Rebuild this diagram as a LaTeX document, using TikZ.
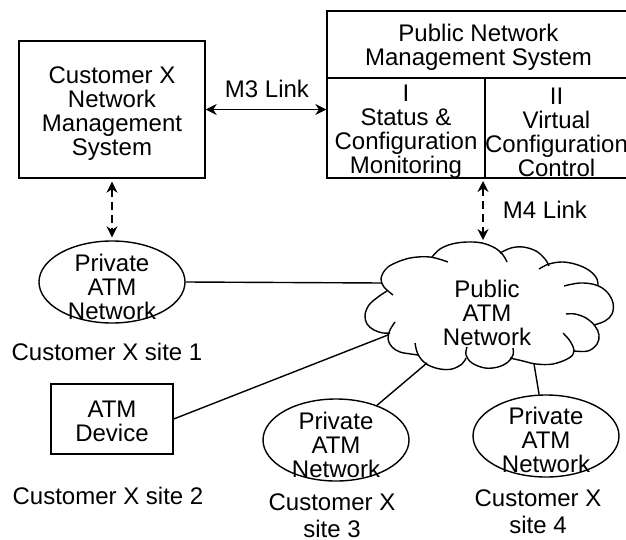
\documentclass[tikz,border=0pt]{standalone}
\usepackage{fontspec}
\setmainfont{Liberation Sans}
\usepackage{tikz}
\usetikzlibrary{
  arrows.meta,
  shapes.geometric,
  positioning
}
\tikzset{
  nmnode/.style={
    draw, line width=0.7pt, align=center, inner sep=0pt
  },
  nmbox/.style={nmnode, minimum width=93pt, minimum height=68.5pt},
  cellbox/.style={nmnode, minimum height=50pt},
  devbox/.style={nmnode, minimum width=61pt, minimum height=35pt},
  boxtext/.style={align=center, inner sep=0pt},
  privnet/.style={draw, ellipse, line width=0.7pt, minimum width=73pt, minimum height=41pt, inner sep=0pt},
  puff/.style={line width=0.7pt, smooth, tension=0.6},
  nettext/.style={align=center, inner sep=0pt},
  tag/.style={align=center, inner sep=0pt},
  mlink/.style={{Stealth[length=5.5pt,width=5.5pt]}-{Stealth[length=5.5pt,width=5.5pt]}, line width=0.7pt},
  mdash/.style={mlink, dash pattern=on 4pt off 2.5pt, shorten <=1.5pt, shorten >=1.5pt},
  netline/.style={line width=0.7pt}
}

\begin{document}
\begin{tikzpicture}[x=0.5pt, y=-0.5pt, font=\fontsize{12}{12}\selectfont]
  \useasboundingbox (0,0) rectangle (626,540);

  % management systems
  \node[nmbox] (cust) at (112,109.5) {};
  \node[boxtext] (custtxt) at (112,113.5) {Customer X\\Network\\Management\\System};
  \node[nmnode, minimum width=151.5pt, minimum height=33.5pt] (pub) at (478.5,44.5) {};
  \node[boxtext] (pubtxt) at (478.5,47.5) {Public Network\\Management System};
  \node[cellbox, minimum width=79pt] (stat) at (406,128) {};
  \node[boxtext] (stattxt) at (406,132) {I\\Status \&\\Configuration\\Monitoring};
  \node[cellbox, minimum width=71.5pt] (virt) at (556.5,128) {};
  \node[boxtext] (virttxt) at (556.5,132) {II\\Virtual\\Configuration\\Control};

  % customer sites
  \node[privnet] (site1) at (112,282) {};
  \node[nettext] (site1txt) at (112,287) {Private\\ATM\\Network};
  \node[tag] (site1tag) at (107,352) {Customer X site 1};

  \node[devbox] (dev) at (112,419) {};
  \node[boxtext] (devtxt) at (112,421.5) {ATM\\Device};
  \node[tag] (site2tag) at (108,496) {Customer X site 2};

  \node[privnet] (site3) at (336,440) {};
  \node[nettext] (site3txt) at (336,445) {Private\\ATM\\Network};
  \node[tag] (site3tag) at (332,515.5) {Customer X\\[1.5pt]site 3};

  \node[privnet] (site4) at (546,436) {};
  \node[nettext] (site4txt) at (546,440) {Private\\ATM\\Network};
  \node[tag] (site4tag) at (538,512) {Customer X\\[1.5pt]site 4};

  % public ATM network (cloud)
  \draw[puff] plot coordinates {(387,291) (378,297) (369,305) (365,315) (367,324) (374,330) (383,333) (390,333)};
  \draw[puff] plot coordinates {(395,322) (390,330) (388,339) (392,347) (400,352) (411,354) (418,355)};
  \draw[puff] plot coordinates {(415,343) (417,352) (421,359) (428,365) (440,369) (452,369) (462,364) (466,358)};
  \draw[puff] plot coordinates {(467,347) (466,355) (472,363) (485,368) (498,367) (508,362) (513,355) (513,348)};
  \draw[puff] plot coordinates {(510,358) (523,361) (536,364) (553,364) (569,358) (574,351) (570,341) (563,333)};
  \draw[puff] plot coordinates {(574,351) (588,351) (597,344) (599,335) (595,326) (586,318) (575,314) (566,314)};
  \draw[puff] plot coordinates {(564,286) (580,283) (596,285) (607,292) (613,303) (612,314) (605,321) (594,325)};
  \draw[puff] plot coordinates {(539,269) (549,264) (563,262) (578,265) (590,271) (597,279) (598,286)};
  \draw[puff] plot coordinates {(500,253) (511,248) (523,247) (536,251) (545,259) (549,266)};
  \draw[puff] plot coordinates {(432,257) (440,249) (452,244) (467,242) (482,243) (495,248) (503,255) (507,262)};
  \draw[puff] plot coordinates {(393,295) (384,287) (381,279) (385,270) (393,264) (410,258) (430,257) (448,262)};
  \node[nettext] (atmtxt) at (487,313) {Public\\ATM\\Network};

  % management links
  \draw[mlink] (cust.east) -- (cust.east -| stat.west);
  \node[tag] (m3tag) at (267,89) {M3 Link};
  \draw[mdash] (cust.south) -- (site1.north);
  \coordinate (m4top) at (483,178);
  \coordinate (atmtop) at (483,243);
  \draw[mdash] (m4top) -- (atmtop);
  \node[tag] (m4tag) at (545,210) {M4 Link};

  % access lines into the public network
  \coordinate (in1) at (382,283);
  \coordinate (in2) at (388,335);
  \coordinate (in3) at (427,363);
  \coordinate (in4) at (534,364);
  \draw[netline] (site1.east) -- (in1);
  \draw[netline] (dev.east) -- (in2);
  \draw[netline] (in3) -- (site3);
  \draw[netline] (in4) -- (site4);
\end{tikzpicture}
\end{document}
